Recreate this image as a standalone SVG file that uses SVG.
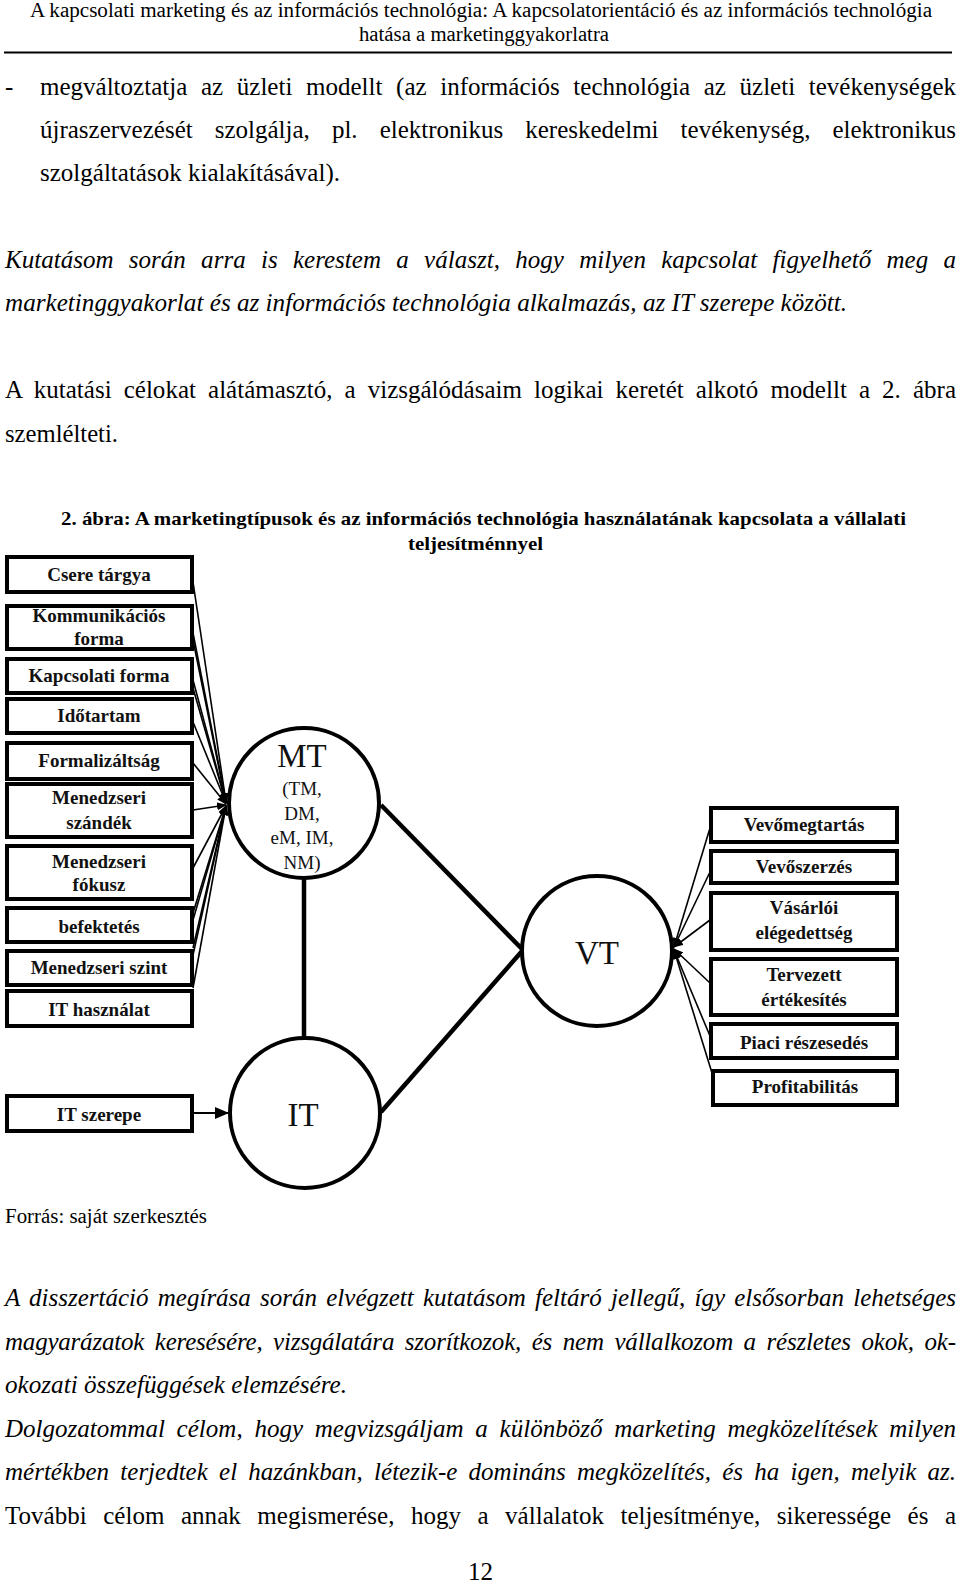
<svg xmlns="http://www.w3.org/2000/svg" width="960" height="1585" viewBox="0 0 960 1585">
<style>
text{font-family:'Liberation Serif','Times New Roman',Times,serif}
.body{font-size:25px;fill:#000}
.it{font-style:italic}
.hdr{font-size:20px;fill:#000}
.cap{font-size:19px;font-weight:bold;fill:#000}
.box{fill:#fff;stroke:#000;stroke-width:4}
.bl{font-size:19px;font-weight:bold;fill:#111;text-anchor:middle}
.circ{fill:#fff;stroke:#000;stroke-width:4}
.cl{fill:#111;text-anchor:middle}
.thin{stroke:#000;stroke-width:1.6;fill:none}
.thick{stroke:#000;stroke-width:4.5;fill:none}
</style>
<defs>
<marker id="ah" markerUnits="userSpaceOnUse" markerWidth="10" markerHeight="8" refX="9" refY="4" orient="auto">
<path d="M0,0 L10,4 L0,8 Z" fill="#000"/>
</marker>
<marker id="ahb" markerUnits="userSpaceOnUse" markerWidth="14" markerHeight="12" refX="13" refY="6" orient="auto">
<path d="M0,0 L14,6 L0,12 Z" fill="#000"/>
</marker>
</defs>
<rect width="960" height="1585" fill="#fff"/>

<!-- header -->
<text class="hdr" x="30" y="17" textLength="902" lengthAdjust="spacingAndGlyphs">A kapcsolati marketing és az információs technológia: A kapcsolatorientáció és az információs technológia</text>
<text class="hdr" x="359" y="41" textLength="250" lengthAdjust="spacingAndGlyphs">hatása a marketinggyakorlatra</text>
<line x1="4" y1="52.5" x2="952" y2="52.5" stroke="#000" stroke-width="2"/>

<!-- body text top -->
<text class="body" x="5" y="95">-</text>
<text class="body" x="40" y="95" word-spacing="7.4" textLength="916" lengthAdjust="spacing">megváltoztatja az üzleti modellt (az információs technológia az üzleti tevékenységek</text>
<text class="body" x="40" y="138" word-spacing="15.8" textLength="916" lengthAdjust="spacing">újraszervezését szolgálja, pl. elektronikus kereskedelmi tevékenység, elektronikus</text>
<text class="body" x="40" y="181" textLength="300" lengthAdjust="spacingAndGlyphs">szolgáltatások kialakításával).</text>

<text class="body it" x="5" y="268" word-spacing="9" textLength="951" lengthAdjust="spacing">Kutatásom során arra is kerestem a választ, hogy milyen kapcsolat figyelhető meg a</text>
<text class="body it" x="5" y="311" textLength="842" lengthAdjust="spacingAndGlyphs">marketinggyakorlat és az információs technológia alkalmazás, az IT szerepe között.</text>

<text class="body" x="5" y="398" word-spacing="5.8" textLength="951" lengthAdjust="spacing">A kutatási célokat alátámasztó, a vizsgálódásaim logikai keretét alkotó modellt a 2. ábra</text>
<text class="body" x="5" y="442" textLength="113" lengthAdjust="spacingAndGlyphs">szemlélteti.</text>

<!-- caption -->
<text class="cap" x="61" y="525" textLength="845" lengthAdjust="spacingAndGlyphs">2. ábra: A marketingtípusok és az információs technológia használatának kapcsolata a vállalati</text>
<text class="cap" x="408" y="550" textLength="135" lengthAdjust="spacingAndGlyphs">teljesítménnyel</text>

<!-- connectors -->
<g id="connectors">
<line class="thin" x1="193" y1="582" x2="226" y2="802" marker-end="url(#ah)"/>
<line class="thin" x1="193" y1="633" x2="226" y2="802" marker-end="url(#ah)"/>
<line class="thin" x1="193" y1="640" x2="226" y2="803" marker-end="url(#ah)"/>
<line class="thin" x1="193" y1="680" x2="226" y2="803" marker-end="url(#ah)"/>
<line class="thin" x1="193" y1="688" x2="226" y2="803" marker-end="url(#ah)"/>
<line class="thin" x1="193" y1="722" x2="226" y2="803" marker-end="url(#ah)"/>
<line class="thin" x1="193" y1="763" x2="226" y2="804" marker-end="url(#ah)"/>
<line class="thin" x1="193" y1="810" x2="226" y2="805" marker-end="url(#ah)"/>
<line class="thin" x1="193" y1="868" x2="226" y2="806" marker-end="url(#ah)"/>
<line class="thin" x1="193" y1="913" x2="226" y2="806" marker-end="url(#ah)"/>
<line class="thin" x1="193" y1="920" x2="226" y2="806" marker-end="url(#ah)"/>
<line class="thin" x1="193" y1="948" x2="226" y2="806" marker-end="url(#ah)"/>
<line class="thin" x1="193" y1="955" x2="226" y2="806" marker-end="url(#ah)"/>
<line class="thin" x1="193" y1="988" x2="226" y2="806" marker-end="url(#ah)"/>

<line class="thin" x1="710" y1="828" x2="674" y2="947" marker-end="url(#ah)"/>
<line class="thin" x1="710" y1="872" x2="674" y2="947" marker-end="url(#ah)"/>
<line class="thin" x1="710" y1="920" x2="674" y2="947" marker-end="url(#ah)"/>
<line class="thin" x1="710" y1="983" x2="674" y2="949" marker-end="url(#ah)"/>
<line class="thin" x1="710" y1="1036" x2="674" y2="950" marker-end="url(#ah)"/>
<line class="thin" x1="712" y1="1073" x2="674" y2="950" marker-end="url(#ah)"/>

<line class="thick" x1="304" y1="878" x2="304" y2="1038"/>
<line class="thick" x1="381" y1="805" x2="523" y2="950"/>
<line class="thick" x1="381" y1="1112" x2="523" y2="950"/>
<line x1="193" y1="1113" x2="228" y2="1113" stroke="#000" stroke-width="2" marker-end="url(#ahb)"/>
</g>

<!-- left boxes -->
<g id="n-csere"><rect class="box" x="7" y="557" width="185" height="35"/><text class="bl" x="99" y="581">Csere tárgya</text></g>
<g id="n-kommunikacios"><rect class="box" x="7" y="606" width="185" height="43"/><text class="bl" x="99" y="622">Kommunikációs</text><text class="bl" x="99" y="645">forma</text></g>
<g id="n-kapcsolati"><rect class="box" x="7" y="659" width="185" height="34"/><text class="bl" x="99" y="682">Kapcsolati forma</text></g>
<g id="n-idotartam"><rect class="box" x="7" y="699" width="185" height="34"/><text class="bl" x="99" y="722">Időtartam</text></g>
<g id="n-formalizaltsag"><rect class="box" x="7" y="743" width="185" height="36"/><text class="bl" x="99" y="767">Formalizáltság</text></g>
<g id="n-szandek"><rect class="box" x="7" y="784" width="185" height="53"/><text class="bl" x="99" y="804">Menedzseri</text><text class="bl" x="99" y="829">szándék</text></g>
<g id="n-fokusz"><rect class="box" x="7" y="846" width="185" height="53"/><text class="bl" x="99" y="868">Menedzseri</text><text class="bl" x="99" y="891">fókusz</text></g>
<g id="n-befektetes"><rect class="box" x="7" y="908" width="185" height="34"/><text class="bl" x="99" y="933">befektetés</text></g>
<g id="n-szint"><rect class="box" x="7" y="951" width="185" height="34"/><text class="bl" x="99" y="974">Menedzseri szint</text></g>
<g id="n-ithasznalat"><rect class="box" x="7" y="991" width="185" height="35"/><text class="bl" x="99" y="1016">IT használat</text></g>
<g id="n-itszerepe"><rect class="box" x="7" y="1096" width="185" height="35"/><text class="bl" x="99" y="1121">IT szerepe</text></g>

<!-- circles -->
<g id="n-mt"><circle class="circ" cx="304" cy="803" r="75"/>
<text class="cl" x="302" y="767" font-size="33">MT</text>
<text class="cl" x="302" y="795" font-size="19">(TM,</text>
<text class="cl" x="302" y="820" font-size="19">DM,</text>
<text class="cl" x="302" y="844" font-size="19">eM, IM,</text>
<text class="cl" x="302" y="869" font-size="19">NM)</text></g>
<g id="n-vt"><circle class="circ" cx="597" cy="951" r="75"/><text class="cl" x="597" y="964" font-size="33">VT</text></g>
<g id="n-it"><circle class="circ" cx="305" cy="1113" r="75"/><text class="cl" x="303" y="1126" font-size="33">IT</text></g>

<!-- right boxes -->
<g id="n-vevomegtartas"><rect class="box" x="711" y="808" width="186" height="34"/><text class="bl" x="804" y="831">Vevőmegtartás</text></g>
<g id="n-vevoszerzes"><rect class="box" x="711" y="851" width="186" height="32"/><text class="bl" x="804" y="873">Vevőszerzés</text></g>
<g id="n-vasarloi"><rect class="box" x="711" y="893" width="186" height="57"/><text class="bl" x="804" y="914">Vásárlói</text><text class="bl" x="804" y="939">elégedettség</text></g>
<g id="n-tervezett"><rect class="box" x="711" y="959" width="186" height="56"/><text class="bl" x="804" y="981">Tervezett</text><text class="bl" x="804" y="1006">értékesítés</text></g>
<g id="n-piaci"><rect class="box" x="711" y="1024" width="186" height="34"/><text class="bl" x="804" y="1049">Piaci részesedés</text></g>
<g id="n-profit"><rect class="box" x="713" y="1071" width="184" height="34"/><text class="bl" x="805" y="1093">Profitabilitás</text></g>

<!-- bottom text -->
<text class="hdr" x="5" y="1223" textLength="202" lengthAdjust="spacingAndGlyphs">Forrás: saját szerkesztés</text>

<text class="body it" x="5" y="1306" word-spacing="3" textLength="951" lengthAdjust="spacing">A disszertáció megírása során elvégzett kutatásom feltáró jellegű, így elsősorban lehetséges</text>
<text class="body it" x="5" y="1350" word-spacing="4.6" textLength="951" lengthAdjust="spacing">magyarázatok keresésére, vizsgálatára szorítkozok, és nem vállalkozom a részletes okok, ok-</text>
<text class="body it" x="5" y="1393" textLength="342" lengthAdjust="spacingAndGlyphs">okozati összefüggések elemzésére.</text>
<text class="body it" x="5" y="1437" word-spacing="5.5" textLength="951" lengthAdjust="spacing">Dolgozatommal célom, hogy megvizsgáljam a különböző marketing megközelítések milyen</text>
<text class="body it" x="5" y="1480" word-spacing="5" textLength="951" lengthAdjust="spacing">mértékben terjedtek el hazánkban, létezik-e domináns megközelítés, és ha igen, melyik az.</text>
<text class="body" x="5" y="1524" word-spacing="10.2" textLength="951" lengthAdjust="spacing">További célom annak megismerése, hogy a vállalatok teljesítménye, sikeressége és a</text>
<text class="body" x="468" y="1580">12</text>
</svg>
